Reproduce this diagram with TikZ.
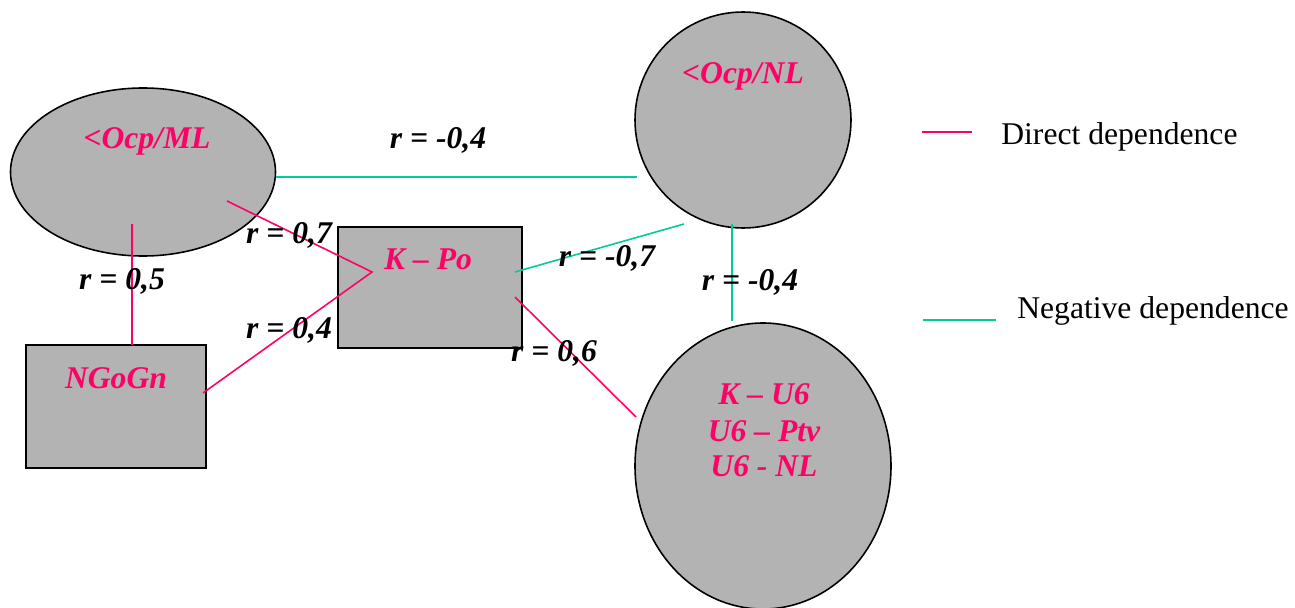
\documentclass[tikz,border=0pt]{standalone}
\usepackage{fontspec}
\setmainfont{Liberation Serif}
\usetikzlibrary{shapes.geometric}
\definecolor{dirred}{HTML}{FF0066}
\definecolor{neggreen}{HTML}{00CC99}
\definecolor{shapegray}{HTML}{B3B3B3}
\tikzset{
  shapebox/.style={draw=black, line width=0.9pt, fill=shapegray, inner sep=0pt},
  ovalbox/.style={shapebox, ellipse},
  rectbox/.style={shapebox, rectangle},
  pinktext/.style={text=dirred, font=\fontsize{18}{20}\selectfont\bfseries\itshape, inner sep=0pt, align=center},
  rlabel/.style={text=black, font=\fontsize{18}{20}\selectfont\bfseries\itshape, inner sep=0pt},
  legtext/.style={text=black, font=\fontsize{18}{20}\selectfont, inner sep=0pt, anchor=west},
  dirline/.style={draw=dirred, line width=0.9pt},
  negline/.style={draw=neggreen, line width=0.9pt},
}
\begin{document}
\begin{tikzpicture}[x=0.02cm, y=-0.02cm]
\useasboundingbox (0,0) rectangle (1295,608);
% shapes
\node[ovalbox, minimum width=265*0.02cm, minimum height=168*0.02cm] (ml) at (143,172) {};
\node[ovalbox, minimum width=216*0.02cm, minimum height=216*0.02cm] (nl) at (743,120) {};
\node[ovalbox, minimum width=256*0.02cm, minimum height=286*0.02cm] (u6) at (763,466) {};
\node[rectbox, minimum width=184*0.02cm, minimum height=121*0.02cm] (kpo) at (430,287.5) {};
\node[rectbox, minimum width=180*0.02cm, minimum height=123*0.02cm] (ngo) at (116,406.5) {};
% texts in shapes
\node[pinktext] (mlt) at (147,141) {<Ocp/ML};
\node[pinktext] (nlt) at (743,76) {<Ocp/NL};
\node[pinktext] (kpot) at (428,259) {K – Po};
\node[pinktext] (ngot) at (116,378) {NGoGn};
\node[pinktext] (u6t) at (764,430) {K – U6\\[1pt]U6 – Ptv\\[0pt]U6 - NL};
% connector end points
\coordinate (mlA) at (132,224);
\coordinate (ngoT) at (132,345);
\coordinate (mlB) at (227,201);
\coordinate (kpoV) at (372,272);
\coordinate (ngoR) at (203,393);
\coordinate (mlR) at (276,177);
\coordinate (nlL) at (637,177);
\coordinate (kpoR1) at (515,272);
\coordinate (nlB1) at (684,224);
\coordinate (nlB2) at (732,224);
\coordinate (u6T) at (732,321);
\coordinate (kpoR2) at (515,297);
\coordinate (u6L) at (636,417);
% connectors
\draw[dirline] (mlA) -- (ngoT);
\draw[dirline] (mlB) -- (kpoV) -- (ngoR);
\draw[negline] (mlR) -- (nlL);
\draw[negline] (kpoR1) -- (nlB1);
\draw[negline] (nlB2) -- (u6T);
\draw[dirline] (kpoR2) -- (u6L);
% labels
\node[rlabel] (l1) at (438,140) {r = -0,4};
\node[rlabel] (l2) at (289,235) {r = 0,7};
\node[rlabel] (l3) at (122,281) {r = 0,5};
\node[rlabel] (l4) at (289,330) {r = 0,4};
\node[rlabel] (l5) at (607,258) {r = -0,7};
\node[rlabel] (l6) at (750,282) {r = -0,4};
\node[rlabel] (l7) at (554,353) {r = 0,6};
% legend
\coordinate (lgA1) at (922,132);
\coordinate (lgA2) at (972,132);
\coordinate (lgB1) at (923,320);
\coordinate (lgB2) at (996,320);
\draw[dirline] (lgA1) -- (lgA2);
\draw[negline] (lgB1) -- (lgB2);
\node[legtext] (lgAt) at (1001,137) {Direct dependence};
\node[legtext] (lgBt) at (1017,311) {Negative dependence};
\end{tikzpicture}
\end{document}
